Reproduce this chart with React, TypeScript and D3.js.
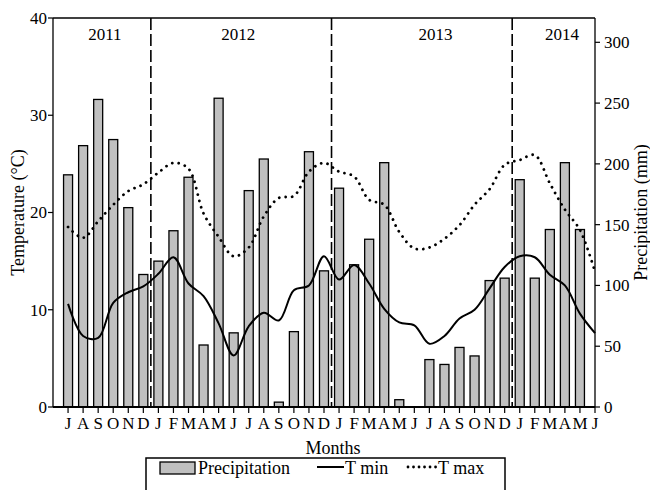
import React from "react";
import * as d3 from "d3";

const months = ["J","A","S","O","N","D","J","F","M","A","M","J","J","A","S","O","N","D","J","F","M","A","M","J","J","A","S","O","N","D","J","F","M","A","M","J"];
const precipitation: (number | null)[] = [191,215,253,220,164,109,120,145,189,51,254,61,178,204,4,62,210,112,180,117,138,201,6,null,39,35,49,42,104,106,187,106,146,201,146,null];
const tMin = [10.6,7.3,7.1,10.7,11.8,12.4,13.7,15.4,12.7,11.4,8.6,5.3,8.3,9.7,8.9,12.0,12.5,15.5,13.1,14.6,12.7,10.1,8.7,8.4,6.5,7.3,9.1,10.0,12.2,14.4,15.5,15.4,13.6,12.5,9.6,7.6];
const tMax = [18.5,17.4,19.1,20.8,22.2,22.9,24.1,25.1,24.5,19.9,17.5,15.5,16.4,19.6,21.5,21.7,24.2,25.1,24.2,23.7,21.3,20.8,18.0,16.3,16.4,17.3,18.7,20.8,22.4,24.9,25.4,25.9,23.0,20.3,18.2,13.9];
const yearLabels = ["2011","2012","2013","2014"];
const yearLabelPos = [2.45, 11.3, 24.4, 32.8];
const yearBoundaries = [5.5, 17.5, 29.5];
const tempTicks = [0,10,20,30,40];
const precTicks = [0,50,100,150,200,250,300];

const W = 650, H = 490;
const L = 53, R = 595, T = 18, B = 407;
const FONT = "'Liberation Serif', 'Times New Roman', serif";

export default function App() {
  const x = d3.scaleLinear().domain([-1, 35]).range([L, R]);
  const yT = d3.scaleLinear().domain([0, 40]).range([B, T]);
  const yP = d3.scaleLinear().domain([0, 320]).range([B, T]);
  const barW = 9;
  const line = (vals: number[]) =>
    d3.line<number>().x((_, i) => x(i)).y(v => yT(v)).curve(d3.curveCatmullRom.alpha(0.5))(vals) || "";

  return (
    <svg width={W} height={H} style={{ position: "absolute", left: 0, top: 0, background: "#fff" }} fontFamily={FONT}>
      <rect x={0} y={0} width={W} height={H} fill="#fff" />
      {precipitation.map((v, i) =>
        v == null ? null : (
          <rect key={i} x={x(i) - barW / 2} y={yP(v)} width={barW} height={B - yP(v)}
            fill="#c0c0c0" stroke="#000" strokeWidth={1.3} />
        )
      )}
      {yearBoundaries.map((b, i) => (
        <line key={i} x1={x(b)} x2={x(b)} y1={T} y2={B} stroke="#000" strokeWidth={1.6} strokeDasharray="12 4" />
      ))}
      <path d={line(tMin)} fill="none" stroke="#000" strokeWidth={2} />
      <path d={line(tMax)} fill="none" stroke="#000" strokeWidth={2.8} strokeDasharray="0.01 6.5" strokeLinecap="round" />
      {yearLabels.map((t, i) => (
        <text key={t} x={x(yearLabelPos[i])} y={40} fontSize={17} textAnchor="middle">{t}</text>
      ))}
      {/* frame */}
      <line x1={L} x2={R} y1={T} y2={T} stroke="#000" strokeWidth={1.3} />
      <line x1={L} x2={L} y1={T} y2={B} stroke="#000" strokeWidth={1.3} />
      <line x1={R} x2={R} y1={T} y2={B} stroke="#000" strokeWidth={1.3} />
      <line x1={L} x2={R} y1={B} y2={B} stroke="#000" strokeWidth={2} />
      {/* left axis */}
      {tempTicks.map(t => (
        <g key={t}>
          <line x1={L - 5} x2={L} y1={yT(t)} y2={yT(t)} stroke="#000" strokeWidth={1.2} />
          <text x={L - 6} y={yT(t)} dy="0.35em" fontSize={17} textAnchor="end">{t}</text>
        </g>
      ))}
      {/* right axis */}
      {precTicks.map(t => (
        <g key={t}>
          <line x1={R} x2={R + 5} y1={yP(t)} y2={yP(t)} stroke="#000" strokeWidth={1.2} />
          <text x={R + 9} y={yP(t)} dy="0.35em" fontSize={17} textAnchor="start">{t}</text>
        </g>
      ))}
      {/* bottom axis */}
      {months.map((m, i) => (
        <g key={i}>
          <line x1={x(i)} x2={x(i)} y1={B} y2={B + 6} stroke="#000" strokeWidth={1.2} />
          <text x={x(i)} y={429} fontSize={17} textAnchor="middle">{m}</text>
        </g>
      ))}
      <text x={333} y={454} fontSize={18} textAnchor="middle">Months</text>
      <text transform={`translate(24,${(T + B) / 2}) rotate(-90)`} fontSize={18} textAnchor="middle">Temperature (°C)</text>
      <text transform={`translate(647,${(T + B) / 2}) rotate(-90)`} fontSize={18} textAnchor="middle">Precipitation (mm)</text>
      {/* legend */}
      <rect x={146} y={458} width={359} height={40} fill="none" stroke="#000" strokeWidth={1.5} />
      <rect x={160} y={462} width={35} height={12} fill="#c0c0c0" stroke="#000" strokeWidth={1.3} />
      <text x={198} y={474} fontSize={18}>Precipitation</text>
      <line x1={317} x2={344} y1={467} y2={467} stroke="#000" strokeWidth={2} />
      <text x={345} y={474} fontSize={18}>T min</text>
      <line x1={408} x2={436} y1={467} y2={467} stroke="#000" strokeWidth={2.8} strokeDasharray="0.01 5.5" strokeLinecap="round" />
      <text x={438} y={474} fontSize={18}>T max</text>
    </svg>
  );
}
